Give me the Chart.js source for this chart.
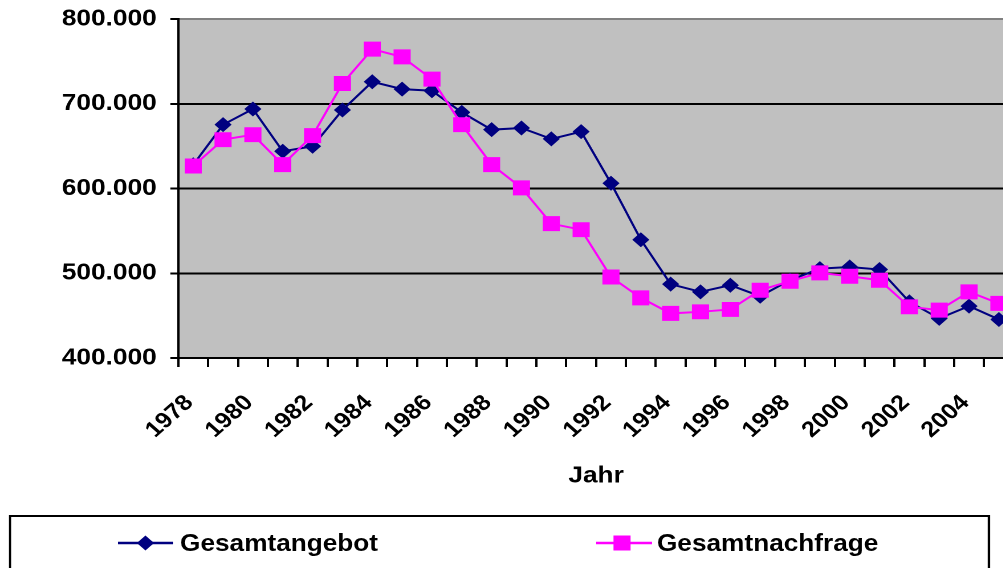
<!DOCTYPE html>
<html>
<head>
<meta charset="utf-8">
<script src="https://cdn.jsdelivr.net/npm/chart.js@4/dist/chart.umd.min.js"></script>
<style>
  html, body { margin: 0; padding: 0; background: #fff; overflow: hidden; width: 1003px; height: 568px; }
  #wrap { position: absolute; left: 0; top: 0; width: 900px; height: 568px; transform: scaleX(1.14); transform-origin: 0 0; }
  #c { position: absolute; left: 0; top: 0; width: 900px; height: 568px; }
  #leg { position: absolute; left: 0; top: 0; width: 900px; height: 568px; pointer-events: none; }
</style>
</head>
<body>
<div id="wrap">
  <canvas id="c" width="900" height="568"></canvas>
  <svg id="leg" width="900" height="568" xmlns="http://www.w3.org/2000/svg">
    <rect x="8.8" y="516" width="858.7" height="80" fill="none" stroke="#000" stroke-width="2"/>
    <line x1="103.5" y1="543" x2="151.8" y2="543" stroke="#000080" stroke-width="2.5"/>
    <polygon points="127.6,535.5 135.1,543 127.6,550.5 120.1,543" fill="#000080"/>
    <text x="157.9" y="551.2" font-family="'Liberation Sans', Arial, sans-serif" font-weight="bold" font-size="23" fill="#000">Gesamtangebot</text>
    <line x1="522.8" y1="543" x2="571.9" y2="543" stroke="#FF00FF" stroke-width="2.5"/>
    <rect x="538.1" y="535.5" width="15" height="15" fill="#FF00FF"/>
    <text x="576.3" y="551.2" font-family="'Liberation Sans', Arial, sans-serif" font-weight="bold" font-size="23" fill="#000">Gesamtnachfrage</text>
  </svg>
</div>
<script>
const years = ['1978','1979','1980','1981','1982','1983','1984','1985','1986','1987','1988','1989','1990','1991','1992','1993','1994','1995','1996','1997','1998','1999','2000','2001','2002','2003','2004','2005'];
const shownYears = ['1978','1980','1982','1984','1986','1988','1990','1992','1994','1996','1998','2000','2002','2004'];
const gesamtangebot = [628000, 675300, 693800, 643900, 649800, 692600, 725900, 717300, 715300, 689800, 669400, 671400, 658500, 667100, 606200, 539600, 487100, 478000, 485900, 472900, 491800, 505500, 507400, 504400, 466200, 446700, 461200, 445500];
const gesamtnachfrage = [626500, 657600, 663500, 628200, 662400, 723900, 764400, 755300, 729000, 675300, 628200, 600800, 558500, 551400, 495600, 470900, 452600, 454500, 457300, 480000, 490600, 500400, 496500, 491800, 460400, 456500, 478000, 464400];
const yMin = 400000, yMax = 800000, yStep = 100000;
const seriesNames = ['Gesamtangebot', 'Gesamtnachfrage'];
const xTitle = 'Jahr';

function fmt(v) { return String(v).replace(/\B(?=(\d{3})+(?!\d))/g, '.'); }

const FONT = "'Liberation Sans', Arial, sans-serif";

const bgPlugin = {
  id: 'plotBg',
  beforeDraw(chart) {
    const a = chart.chartArea, ctx = chart.ctx;
    ctx.save();
    ctx.fillStyle = '#C0C0C0';
    ctx.fillRect(a.left, a.top, a.right - a.left, a.bottom - a.top);
    ctx.restore();
  }
};

new Chart(document.getElementById('c'), {
  type: 'line',
  data: {
    labels: years,
    datasets: [
      {
        label: seriesNames[0], data: gesamtangebot, order: 1,
        borderColor: '#000080', backgroundColor: '#000080', borderWidth: 2,
        pointStyle: 'rectRot', pointRadius: 7.5, pointBorderWidth: 0, pointBackgroundColor: '#000080',
        tension: 0, fill: false
      },
      {
        label: seriesNames[1], data: gesamtnachfrage, order: 0,
        borderColor: '#FF00FF', backgroundColor: '#FF00FF', borderWidth: 2,
        pointStyle: 'rect', pointRadius: 10.6, pointBorderWidth: 0, pointBackgroundColor: '#FF00FF',
        tension: 0, fill: false
      }
    ]
  },
  options: {
    responsive: false,
    animation: false,
    devicePixelRatio: 2,
    layout: { padding: { left: 0, right: 10.7, top: 19, bottom: 0 } },
    plugins: { legend: { display: false }, tooltip: { enabled: false } },
    scales: {
      x: {
        type: 'category',
        offset: true,
        grid: { display: true, drawOnChartArea: false, drawTicks: true, tickLength: 9, offset: true, color: '#000', lineWidth: 2 },
        border: { display: true, color: '#000', width: 2 },
        ticks: {
          autoSkip: false, maxRotation: 45, minRotation: 45, padding: 23, labelOffset: -3.2,
          color: '#000', font: { family: FONT, size: 22, weight: 'bold' },
          callback: function(v, i) { const l = this.getLabelForValue(v); return shownYears.includes(l) ? l : ''; }
        },
        title: { display: true, text: xTitle, color: '#000', font: { family: FONT, size: 23, weight: 'bold' }, padding: { top: 0, bottom: 78.2 } },
        afterFit(scale) { scale.height = 210; scale.paddingLeft = 0; scale.paddingRight = 0; }
      },
      y: {
        min: yMin, max: yMax,
        grid: {
          color: (c) => (c.tick && c.tick.value === yMax) ? '#808080' : '#000',
          tickColor: '#000', lineWidth: 2, tickLength: 7, drawTicks: true
        },
        border: { display: true, color: '#000', width: 2 },
        ticks: {
          stepSize: yStep, padding: 12, color: '#000',
          font: { family: FONT, size: 23, weight: 'bold' },
          callback: (v) => fmt(v)
        },
        afterFit(scale) { scale.width = 156.4; scale.paddingTop = 0; scale.paddingBottom = 0; }
      }
    }
  },
  plugins: [bgPlugin]
});
</script>
</body>
</html>
